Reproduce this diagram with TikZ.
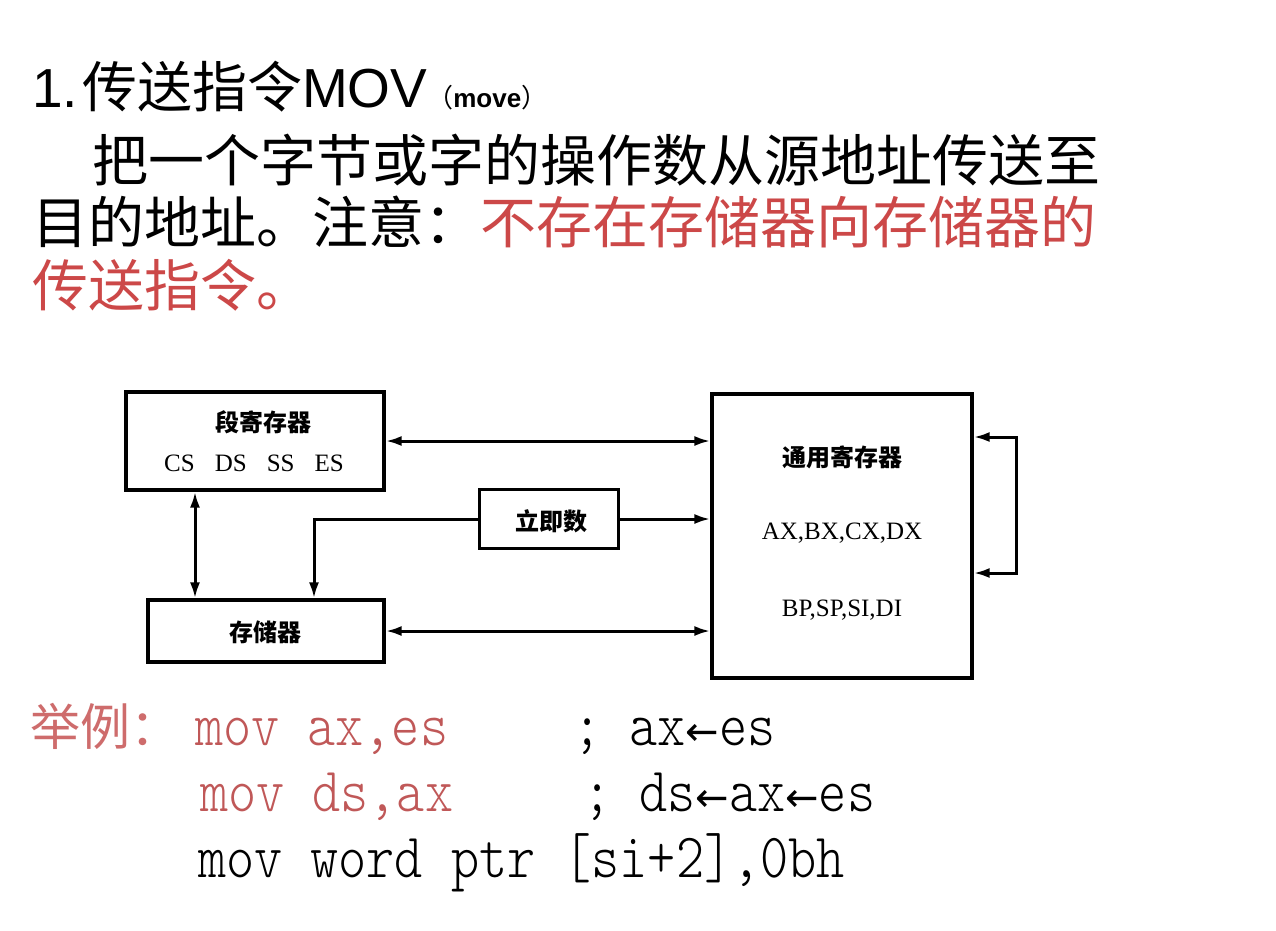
\documentclass[tikz,border=0pt]{standalone}
\usepackage{fontspec}
\usetikzlibrary{arrows.meta}
\newfontfamily\cjk{Noto Sans CJK SC}
\newfontfamily\arial{Liberation Sans}
\newfontfamily\tms{Liberation Serif}
\newfontfamily\mono{Latin Modern Mono Light}[FakeStretch=0.85]
\newfontfamily\dv{DejaVu Sans}
\definecolor{warnred}{RGB}{204,72,72}
\definecolor{exred}{RGB}{206,108,108}
\definecolor{codered}{RGB}{192,88,88}
\newcommand{\larr}{{\dv\fontsize{40}{42}\selectfont ←}}
\begin{document}
\begin{tikzpicture}[x=1pt,y=-1pt,
  >={Latex[length=16pt,width=10pt]},
  box/.style={draw, line width=3.2pt, rectangle, inner sep=0},
  conn/.style={line width=3pt},
  dlabel/.style={font=\cjk\bfseries\fontsize{24}{26}\selectfont, inner sep=0},
  rlabel/.style={font=\tms\fontsize{25}{27}\selectfont, inner sep=0},
  txt/.style={anchor=base west, inner sep=0},
  body/.style={font=\cjk\fontsize{56}{60}\selectfont},
  code/.style={font=\mono\fontsize{63}{66}\selectfont}]
\useasboundingbox (0,0) rectangle (1276,930);
\fill[white] (0,0) rectangle (1276,930);

% header text
\node[txt] (title) at (32,107) {\arial\fontsize{55}{60}\selectfont 1.\hspace{4pt}\cjk 传送指令\arial MOV\fontsize{26}{28}\selectfont\cjk （\arial\bfseries move\cjk\mdseries ）};
\node[txt, body] (l2) at (92,181) {把一个字节或字的操作数从源地址传送至};
\node[txt, body] (l3) at (32,243) {目的地址。注意：\textcolor{warnred}{不存在存储器向存储器的}};
\node[txt, body, text=warnred] (l4) at (32,306) {传送指令。};

% boxes
\node[box, minimum width=258pt, minimum height=98pt] (seg) at (255,441) {};
\node[box, minimum width=139pt, minimum height=59pt] (imm) at (549,519) {};
\node[box, minimum width=236pt, minimum height=62pt] (mem) at (266,631) {};
\node[box, minimum width=260pt, minimum height=284pt] (gen) at (842,536) {};

% box labels
\node[dlabel] (segt) at (263,422) {段寄存器};
\node[rlabel] (segr) at (254,463) {CS\hspace{20pt}DS\hspace{20pt}SS\hspace{20pt}ES};
\node[dlabel] (immt) at (551,521) {立即数};
\node[dlabel] (memt) at (265,632) {存储器};
\node[dlabel] (gent) at (842,457) {通用寄存器};
\node[rlabel] (genr1) at (842,533) {AX,BX,CX,DX};
\node[rlabel] (genr2) at (842,610) {BP,SP,SI,DI};

% connectors
\coordinate (vx) at (195,0);
\coordinate (ix) at (314,0);
\coordinate (r1) at (1016,437);
\coordinate (r2) at (1016,573);
\draw[conn, <->] (seg.east) -- (seg.east -| gen.west);
\draw[conn, ->] (imm.east) -- (imm.east -| gen.west);
\draw[conn, ->] (imm.west) -| (mem.north -| ix);
\draw[conn, <->] (seg.south -| vx) -- (mem.north -| vx);
\draw[conn, <->] (mem.east) -- (mem.east -| gen.west);
\draw[conn, <->] (gen.east |- r1) -- (r1) -- (r2) -- (gen.east |- r2);

% examples
\node[txt, text=exred, font=\cjk\fontsize{50}{54}\selectfont] (ex) at (30,745) {举例：};
\node[txt, code, text=codered] (c1) at (195,745) {mov ax,es};
\node[txt, code] (k1) at (573,745) {; ax\larr es};
\node[txt, code, text=codered] (c2) at (200,811) {mov ds,ax};
\node[txt, code] (k2) at (583,811) {; ds\larr ax\larr es};
\node[txt, code] (c3) at (198,877) {mov word ptr [si+2],0bh};
\end{tikzpicture}
\end{document}
